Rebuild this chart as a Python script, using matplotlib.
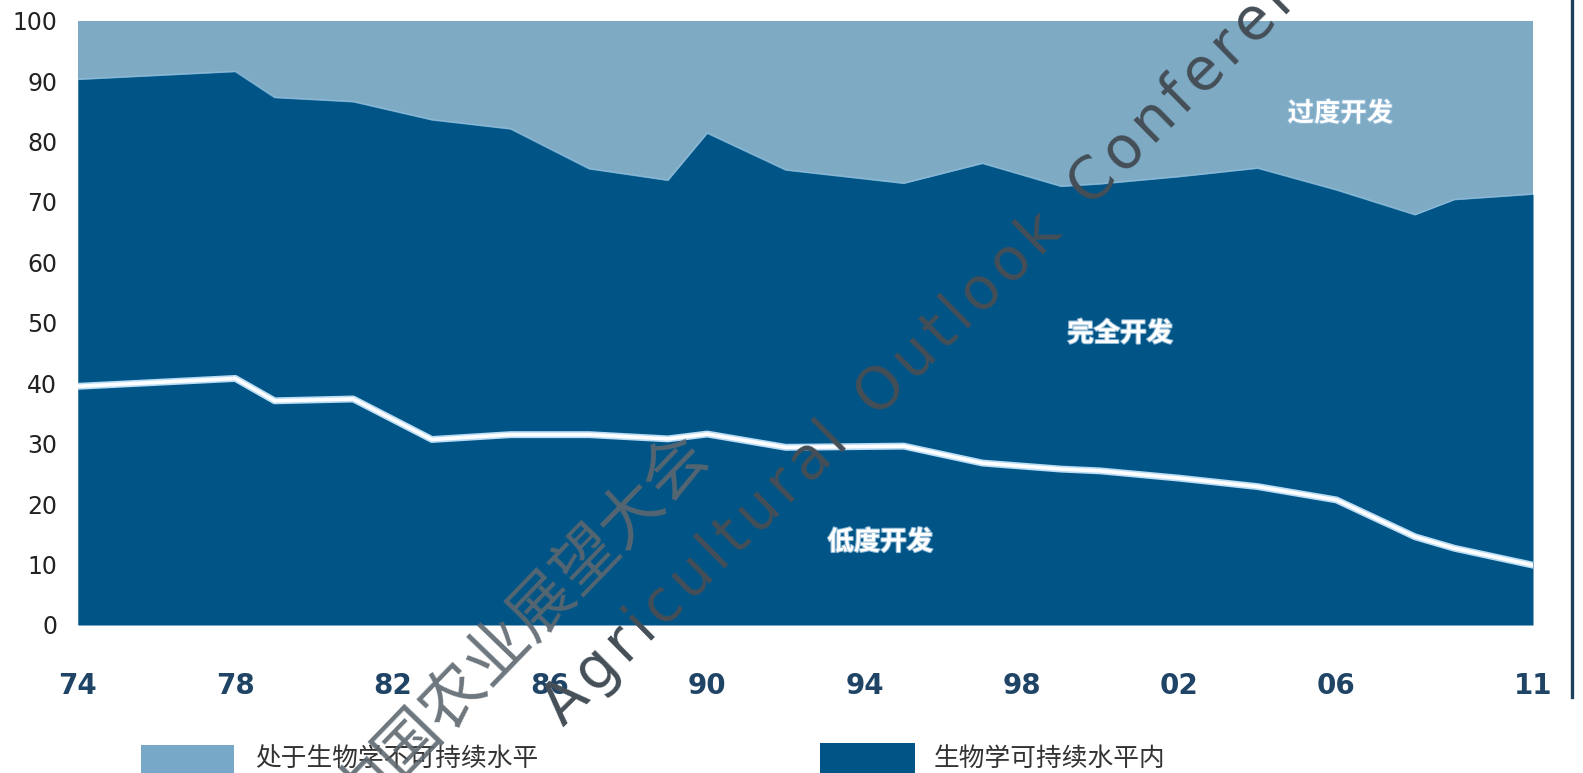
import matplotlib
matplotlib.use("Agg")
import matplotlib.pyplot as plt
from matplotlib.patches import Rectangle
import matplotlib.patheffects as pe

plt.rcParams["font.family"] = ["Noto Sans CJK SC", "DejaVu Sans"]

# share of assessed fish stocks (%), by year
years = [1974, 1978, 1979, 1981, 1983, 1985, 1987, 1989, 1990, 1992,
         1995, 1997, 1999, 2000, 2002, 2004, 2006, 2008, 2009, 2011]
sustainable = [90.3, 91.6, 87.3, 86.6, 83.6, 82.1, 75.5, 73.6, 81.4, 75.3,
               73.1, 76.4, 72.6, 73.0, 74.2, 75.6, 72.0, 67.9, 70.4, 71.3]
underexploited = [39.5, 40.8, 37.1, 37.4, 30.7, 31.5, 31.5, 30.8, 31.6, 29.4,
                  29.6, 26.8, 25.8, 25.5, 24.3, 22.9, 20.7, 14.6, 12.7, 9.9]

tick_years = [1974, 1978, 1982, 1986, 1990, 1994, 1998, 2002, 2006, 2011]
tick_labels = ["74", "78", "82", "86", "90", "94", "98", "02", "06", "11"]
y_ticks = list(range(0, 101, 10))

DARK = "#005586"
LIGHT = "#7eaac4"
W, H = 1583, 773

fig = plt.figure(figsize=(W / 100, H / 100), dpi=100)
ax = fig.add_axes([78 / W, 1 - 625 / H, (1533 - 78) / W, (625 - 20.7) / H])

ax.fill_between(years, 0, 100, color=LIGHT, linewidth=0)
ax.fill_between(years, 0, sustainable, color=DARK, linewidth=0)
ax.plot(years, sustainable, color="#8fc0e0", lw=1.2, alpha=0.7)
ax.plot(years, underexploited, color="#b9dcf4", lw=5, solid_joinstyle="round")
ax.plot(years, underexploited, color="white", lw=2.6, solid_joinstyle="round")

ax.set_xlim(1974, 2011)
ax.set_ylim(0, 100)
ax.set_xticks(tick_years)
ax.set_xticklabels(tick_labels, fontsize=20, fontweight="bold", color="#1f4466",
                   family=["DejaVu Sans"])
ax.set_yticks(y_ticks)
ax.set_yticklabels([str(v) for v in y_ticks], fontsize=17, color="#222222",
                   family=["DejaVu Sans"])
ax.tick_params(axis="x", length=0, pad=34)
ax.tick_params(axis="y", length=0, pad=15)
for s in ax.spines.values():
    s.set_visible(False)

glow = [pe.withStroke(linewidth=1.5, foreground="#8fb8d4")]
for x, y, label in [(2006.1, 84.6, "过度开发"), (2000.5, 48.2, "完全开发"),
                    (1994.4, 13.7, "低度开发")]:
    ax.text(x, y, label, color="white", fontsize=19, fontweight="bold",
            ha="center", va="center", path_effects=glow)

# overlay in pixel coordinates for legend, frame line and watermark
ov = fig.add_axes([0, 0, 1, 1], zorder=5)
ov.set_xlim(0, W)
ov.set_ylim(H, 0)
ov.axis("off")
ov.patch.set_alpha(0)

ov.add_patch(Rectangle((141, 745), 93, 30, facecolor="#77a8c8", edgecolor="none"))
ov.text(255, 759, "处于生物学不可持续水平", fontsize=18.5, color="#333333", va="center")
ov.add_patch(Rectangle((820, 743), 95, 32, facecolor=DARK, edgecolor="none"))
ov.text(934, 759, "生物学可持续水平内", fontsize=18.5, color="#333333", va="center")

ov.plot([1572, 1572], [0, 697], color="#1b3f5c", lw=2.4)

ov.text(520, 626, "中国农业展望大会", fontsize=46, color="#5d676f", alpha=0.9,
        rotation=46, ha="center", va="center", rotation_mode="anchor",
        fontweight="light")
hs = "\u200a"
mark = "  ".join(hs.join(w) for w in ["Agricultural", "Outlook", "Conference"])
ov.text(953, 320, mark, fontsize=42, color="#444e57", rotation=44.6,
        ha="center", va="center", rotation_mode="anchor",
        family=["DejaVu Sans"])

fig.savefig("out.png", dpi=100, facecolor="white")
